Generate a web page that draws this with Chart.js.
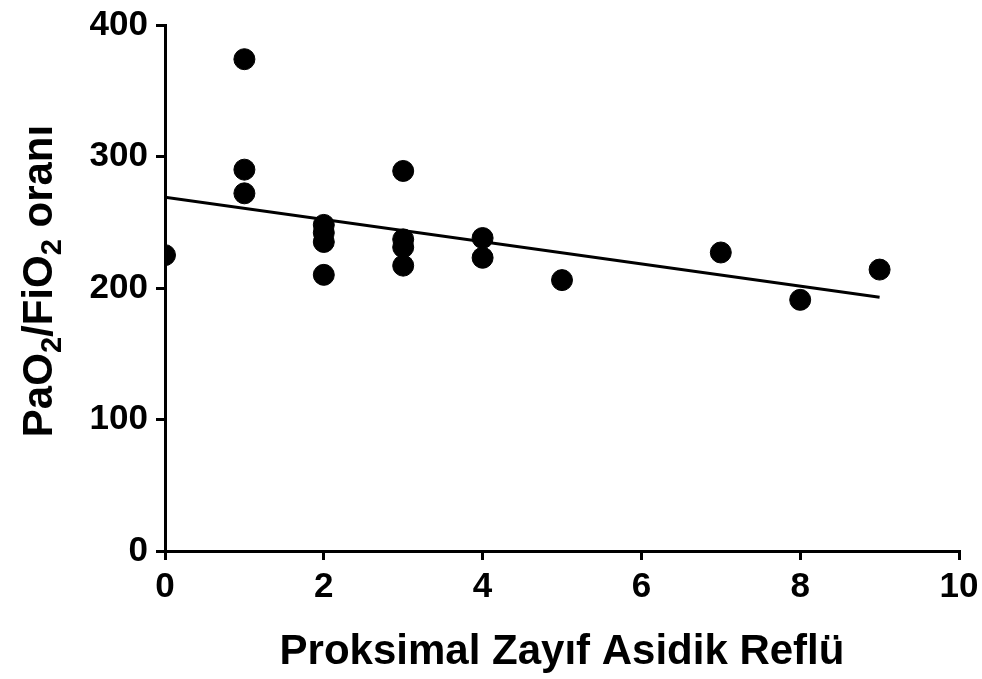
<!DOCTYPE html>
<html>
<head>
<meta charset="utf-8">
<script src="https://cdn.jsdelivr.net/npm/chart.js@4.4.1/dist/chart.umd.min.js"></script>
<style>
  html, body { margin: 0; padding: 0; background: #fff; }
  #wrap { width: 982px; height: 679px; }
</style>
</head>
<body>
<div id="wrap"><canvas id="refluxChart" width="982" height="679"></canvas></div>
<script>
// reflux episodes vs oxygenation ratio
const refluxCounts = [0, 1, 1, 1, 2, 2, 2, 2, 3, 3, 3, 3, 4, 4, 5, 7, 8, 9];
const pfRatios = [225, 374, 290, 272, 248, 242, 235, 210, 289, 237, 231, 217, 238, 223, 206, 227, 191, 214];

// fitted trend line end points
const fitX = [0, 9];
const fitY = [269, 193];

const xTicks = [0, 2, 4, 6, 8, 10];
const yTicks = [0, 100, 200, 300, 400];

const FONT = "'Liberation Sans', Arial, sans-serif";

// y axis title with subscripts, drawn rotated
const yTitlePlugin = {
  id: "yTitle",
  afterDraw(chart) {
    const { ctx, chartArea } = chart;
    const parts = [
      ["PaO", false], ["2", true], ["/FiO", false], ["2", true], [" oranı", false]
    ];
    const big = "bold 42px " + FONT;
    const small = "bold 29px " + FONT;
    ctx.save();
    let total = 0;
    parts.forEach(([t, sub]) => {
      ctx.font = sub ? small : big;
      total += ctx.measureText(t).width;
    });
    const cy = (chartArea.top + chartArea.bottom) / 2;
    ctx.translate(52, cy - 7);
    ctx.rotate(-Math.PI / 2);
    ctx.fillStyle = "#000";
    ctx.textBaseline = "alphabetic";
    let x = -total / 2;
    parts.forEach(([t, sub]) => {
      ctx.font = sub ? small : big;
      ctx.fillText(t, x, sub ? 9 : 0);
      x += ctx.measureText(t).width;
    });
    ctx.restore();
  }
};

const points = refluxCounts.map((x, i) => ({ x, y: pfRatios[i] }));
const fitLine = fitX.map((x, i) => ({ x, y: fitY[i] }));

new Chart(document.getElementById("refluxChart"), {
  type: "scatter",
  data: {
    datasets: [
      {
        label: "PaO2/FiO2",
        data: points,
        backgroundColor: "#000",
        borderColor: "#000",
        pointRadius: 10.5,
        pointHoverRadius: 10.5
      },
      {
        type: "line",
        label: "trend",
        data: fitLine,
        borderColor: "#000",
        borderWidth: 3,
        pointRadius: 0,
        fill: false,
        tension: 0
      }
    ]
  },
  options: {
    responsive: false,
    animation: false,
    layout: { padding: { top: 25, right: 23, left: 0, bottom: 0 } },
    plugins: {
      legend: { display: false },
      tooltip: { enabled: false }
    },
    scales: {
      x: {
        type: "linear",
        min: 0,
        max: 10,
        afterBuildTicks: (scale) => { scale.ticks = xTicks.map(v => ({ value: v })); },
        afterFit: (scale) => {
          scale.height = 128;
          scale.paddingLeft = 0;
          scale.paddingRight = 0;
        },
        border: { color: "#000", width: 3 },
        grid: { drawOnChartArea: false, drawTicks: true, tickLength: 9, color: "#000", lineWidth: 3 },
        ticks: {
          color: "#000",
          padding: 6,
          font: { family: FONT, size: 35, weight: "bold" }
        },
        title: {
          display: true,
          text: "Proksimal Zayıf Asidik Reflü",
          color: "#000",
          padding: { top: 10, bottom: 1 },
          font: { family: FONT, size: 42, weight: "bold" }
        }
      },
      y: {
        type: "linear",
        min: 0,
        max: 400,
        afterBuildTicks: (scale) => { scale.ticks = yTicks.map(v => ({ value: v })); },
        afterFit: (scale) => {
          scale.width = 165;
          scale.paddingTop = 0;
          scale.paddingBottom = 0;
        },
        border: { color: "#000", width: 3 },
        grid: { drawOnChartArea: false, drawTicks: true, tickLength: 9, color: "#000", lineWidth: 3 },
        ticks: {
          color: "#000",
          padding: 8,
          font: { family: FONT, size: 35, weight: "bold" }
        }
      }
    }
  },
  plugins: [yTitlePlugin]
});
</script>
</body>
</html>
